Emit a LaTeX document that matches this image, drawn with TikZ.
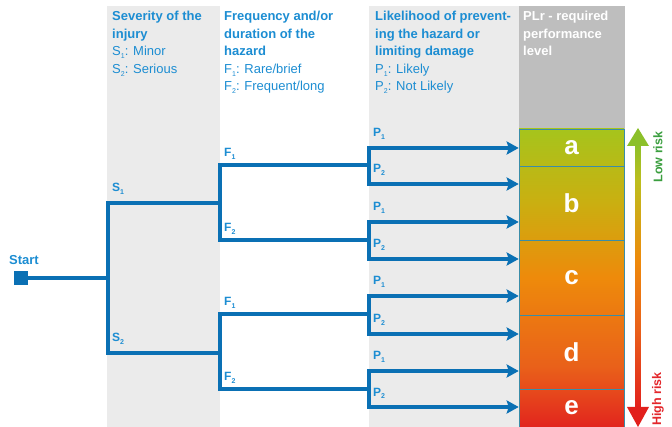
\documentclass[tikz,border=0pt]{standalone}
\usepackage{fontspec}
\setmainfont{Liberation Sans}
\usetikzlibrary{arrows.meta,positioning}

\definecolor{treeblue}{HTML}{0A70B4}
\definecolor{textblue}{HTML}{1C8DD2}
\definecolor{colgray}{HTML}{EBEBEB}
\definecolor{plrgray}{HTML}{BEBEBE}
\definecolor{plrtop}{HTML}{A6C41C}
\definecolor{plrb}{HTML}{C9B011}
\definecolor{plrmid}{HTML}{EE8A0B}
\definecolor{plrd}{HTML}{E9601A}
\definecolor{plrbot}{HTML}{E2251E}
\definecolor{cellline}{HTML}{3A8DA8}
\definecolor{lowgreen}{HTML}{8CC02A}
\definecolor{shaftyellow}{HTML}{BDBE1E}
\definecolor{highred}{HTML}{E2201C}
\definecolor{riskgreen}{HTML}{3A9E3E}
\definecolor{riskred}{HTML}{E3262B}

% path box is mapped onto 25bp..75bp
\pgfdeclareverticalshading{plrshade}{100bp}{color(0bp)=(plrbot); color(25bp)=(plrbot);
  color(35bp)=(plrd); color(50bp)=(plrmid); color(63bp)=(plrb); color(75bp)=(plrtop);
  color(100bp)=(plrtop)}
\pgfdeclareverticalshading{riskshade}{100bp}{color(0bp)=(highred); color(25bp)=(highred);
  color(40bp)=(plrd); color(53bp)=(plrmid); color(68bp)=(shaftyellow); color(75bp)=(lowgreen);
  color(100bp)=(lowgreen)}

\newcommand{\subidx}[1]{\raisebox{-0.45ex}{\fontsize{7}{7}\selectfont #1}}

\tikzset{
  head/.style={anchor=north west,inner sep=0pt,align=left,text=textblue,
    font=\fontsize{13}{17.5}\selectfont},
  branchlabel/.style={anchor=base west,inner sep=0pt,text=textblue,
    font=\bfseries\fontsize{12}{12}\selectfont},
  branch/.style={draw=treeblue,line width=3.2pt,line cap=rect},
  parrow/.style={branch,-{Stealth[length=12pt,width=13pt,inset=2pt]}},
  plrcell/.style={draw=cellline,line width=0.6pt,minimum width=105pt,inner sep=0pt,
    text=white,font=\bfseries\fontsize{26}{26}\selectfont},
  risk/.style={rotate=90,inner sep=0pt,font=\bfseries\fontsize{12.5}{12.5}\selectfont}
}

\begin{document}
\begin{tikzpicture}[x=1pt,y=-1pt]
  \useasboundingbox (0,0) rectangle (672,427);

  %% columns
  \fill[colgray] (107,6) rectangle (220,427);
  \fill[colgray] (369,6) rectangle (519,427);
  \fill[plrgray] (519,6) rectangle (625,129);

  %% headings
  \node (sevhead) at (112,11) [head]
    {\textbf{Severity of the}\\\textbf{injury}\\S\subidx{1}: Minor\\S\subidx{2}: Serious};
  \node (freqhead) at (224,11) [head]
    {\textbf{Frequency and/or}\\\textbf{duration of the}\\\textbf{hazard}\\F\subidx{1}: Rare/brief\\F\subidx{2}: Frequent/long};
  \node (likehead) at (375,11) [head]
    {\textbf{Likelihood of prevent-}\\\textbf{ing the hazard or}\\\textbf{limiting damage}\\P\subidx{1}: Likely\\P\subidx{2}: Not Likely};
  \node (plrhead) at (523,11) [head,text=white]
    {\textbf{PLr - required}\\\textbf{performance}\\\textbf{level}};

  %% performance levels
  \shade[shading=plrshade] (519,129) rectangle (624,427);
  \node (plra) at (571.5,147.5) [plrcell,minimum height=37pt] {a};
  \node (plrb) at (571.5,203)   [plrcell,minimum height=74pt] {b};
  \node (plrc) at (571.5,277.5) [plrcell,minimum height=75pt] {c};
  \node (plrd) at (571.5,352)   [plrcell,minimum height=74pt] {d};
  \node (plre) at (571.5,408)   [plrcell,minimum height=38pt] {e};

  %% risk arrow
  \shade[shading=riskshade] (635.5,144) rectangle (640.5,409);
  \fill[lowgreen] (638,128) -- (649,146) -- (627,146) -- cycle;
  \fill[highred] (638,427) -- (649,407) -- (627,407) -- cycle;
  \node (lowrisk) at (658,157) [risk,text=riskgreen] {Low risk};
  \node (highrisk) at (658,399) [risk,text=riskred] {High risk};

  %% start
  \node (start) at (20.5,278) [fill=treeblue,minimum size=14pt,inner sep=0pt] {};
  \node (startlbl) at (9,265) [branchlabel,font=\bfseries\fontsize{13}{13}\selectfont] {Start};

  %% severity
  \coordinate (sfork) at (108,278);
  \coordinate (s1) at (108,203);
  \coordinate (s2) at (108,353);
  \coordinate (ff1) at (220,203);
  \coordinate (ff2) at (220,353);
  \draw[branch] (start) -- (sfork);
  \draw[branch] (ff1) -- (s1) -- (s2) -- (ff2);
  \node (s1lbl) at (112,192) [branchlabel] {S\subidx{1}};
  \node (s2lbl) at (112,342) [branchlabel] {S\subidx{2}};

  %% frequency
  \coordinate (f11) at (220,165);
  \coordinate (f12) at (220,240);
  \coordinate (f21) at (220,314);
  \coordinate (f22) at (220,389);
  \coordinate (pf1) at (369,165);
  \coordinate (pf2) at (369,240);
  \coordinate (pf3) at (369,314);
  \coordinate (pf4) at (369,389);
  \draw[branch] (pf1) -- (f11) -- (f12) -- (pf2);
  \draw[branch] (pf3) -- (f21) -- (f22) -- (pf4);
  \node (f11lbl) at (224,157) [branchlabel] {F\subidx{1}};
  \node (f12lbl) at (224,232) [branchlabel] {F\subidx{2}};
  \node (f21lbl) at (224,306) [branchlabel] {F\subidx{1}};
  \node (f22lbl) at (224,381) [branchlabel] {F\subidx{2}};

  %% likelihood
  \coordinate (p11) at (369,148);
  \coordinate (p12) at (369,184);
  \coordinate (p21) at (369,222);
  \coordinate (p22) at (369,259);
  \coordinate (p31) at (369,296);
  \coordinate (p32) at (369,334);
  \coordinate (p41) at (369,371);
  \coordinate (p42) at (369,407);
  \draw[branch] (p11) -- (p12);
  \draw[branch] (p21) -- (p22);
  \draw[branch] (p31) -- (p32);
  \draw[branch] (p41) -- (p42);
  \draw[parrow] (p11) -- (p11 -| plra.west);
  \draw[parrow] (p12) -- (p12 -| plrb.west);
  \draw[parrow] (p21) -- (p21 -| plrb.west);
  \draw[parrow] (p22) -- (p22 -| plrc.west);
  \draw[parrow] (p31) -- (p31 -| plrc.west);
  \draw[parrow] (p32) -- (p32 -| plrd.west);
  \draw[parrow] (p41) -- (p41 -| plrd.west);
  \draw[parrow] (p42) -- (p42 -| plre.west);
  \node (p11lbl) at (373,137) [branchlabel] {P\subidx{1}};
  \node (p12lbl) at (373,173) [branchlabel] {P\subidx{2}};
  \node (p21lbl) at (373,211) [branchlabel] {P\subidx{1}};
  \node (p22lbl) at (373,248) [branchlabel] {P\subidx{2}};
  \node (p31lbl) at (373,285) [branchlabel] {P\subidx{1}};
  \node (p32lbl) at (373,323) [branchlabel] {P\subidx{2}};
  \node (p41lbl) at (373,360) [branchlabel] {P\subidx{1}};
  \node (p42lbl) at (373,396) [branchlabel] {P\subidx{2}};

\end{tikzpicture}
\end{document}
